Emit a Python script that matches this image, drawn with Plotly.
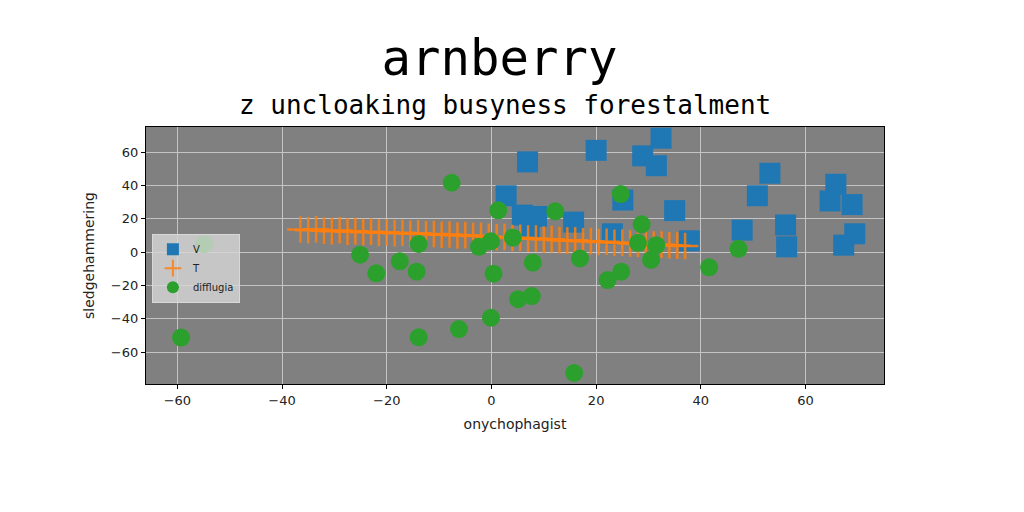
import plotly.graph_objects as go

# series V (blue squares)
v_x = [6.9, 20.0, 32.4, 28.9, 31.5, 25.1, 35.0, 37.8, 2.8, 5.9, 8.6, 7.2,
       15.7, 23.1, 53.2, 50.8, 47.9, 56.2, 56.4, 65.8, 64.7, 68.9, 69.4, 67.3]
v_y = [54.1, 61.0, 68.3, 57.7, 51.8, 31.2, 24.9, 6.8, 33.8, 22.2, 21.4, 14.8,
       18.0, 11.0, 47.3, 33.8, 13.2, 16.3, 3.2, 40.7, 30.7, 28.5, 11.0, 4.2]

# series T (orange crosses)
t_x = [-36.5, -35.0, -33.5, -32.0, -30.5, -29.0, -27.5, -26.0, -24.5, -23.0,
       -21.5, -20.0, -18.5, -17.0, -15.5, -14.0, -12.5, -11.0, -9.5, -8.0,
       -6.5, -5.0, -3.5, -2.0, -0.5, 1.0, 2.5, 4.0, 5.5, 7.0,
       8.5, 10.0, 11.5, 13.0, 14.5, 16.0, 17.5, 19.0, 20.5, 22.0,
       23.5, 25.0, 26.5, 28.0, 29.5, 31.0, 32.5, 34.0, 35.5, 37.0]
t_y = [13.6, 13.1, 13.7, 12.9, 12.6, 13.1, 12.3, 12.6, 12.0, 12.3,
       11.7, 11.9, 11.4, 11.6, 11.0, 11.3, 10.7, 10.9, 10.4, 10.6,
       10.0, 10.2, 9.7, 9.8, 9.2, 8.9, 9.1, 8.5, 8.6, 8.1,
       8.2, 7.6, 7.8, 7.2, 6.9, 7.1, 6.5, 6.6, 6.1, 6.2,
       5.6, 5.7, 5.2, 5.0, 5.1, 4.6, 4.5, 4.1, 3.9, 3.7]

# series difflugia (green circles)
d_x = [-7.6, 1.3, 4.1, -0.1, -2.4, -13.9, -25.1, -17.5, -22.0, -14.3, 0.4,
       5.1, 7.7, -0.1, -6.2, -13.9, -59.3, -54.9, 24.7, 12.2, 28.7, 28.0,
       31.5, 30.5, 7.9, 16.9, 24.8, 22.2, 15.8, 47.2, 41.6]
d_y = [41.6, 25.1, 8.7, 6.5, 3.2, 4.9, -1.5, -5.5, -12.7, -11.7, -12.9,
       -28.2, -26.3, -39.3, -46.1, -51.0, -51.2, 4.8, 34.8, 24.5, 16.7, 5.6,
       4.2, -4.6, -6.3, -3.8, -11.7, -16.7, -72.4, 2.0, -9.1]

tick_vals = [-60, -40, -20, 0, 20, 40, 60]
tick_text = ["\u221260", "\u221240", "\u221220", "0", "20", "40", "60"]

fig = go.Figure()
fig.add_trace(go.Scatter(
    x=v_x, y=v_y, mode="markers", name="V",
    marker=dict(symbol="square", size=21, color="#1f77b4"),
))
fig.add_trace(go.Scatter(
    x=t_x, y=t_y, mode="markers", name="T",
    marker=dict(symbol="cross-thin", size=19, opacity=0.85,
                line=dict(color="#ff7f0e", width=2.5)),
))
fig.add_trace(go.Scatter(
    x=d_x, y=d_y, mode="markers", name="difflugia",
    marker=dict(symbol="circle", size=18, color="#2ca02c"),
))

axis_style = dict(
    tickvals=tick_vals, ticktext=tick_text, automargin=False,
    showgrid=True, gridcolor="#c4c4c4", gridwidth=1.3,
    zeroline=False, showline=True, linecolor="black", linewidth=1.2,
    mirror=True, ticks="outside", ticklen=4, tickcolor="black",
    tickfont=dict(family="DejaVu Sans", size=13, color="#222"),
)

# the page body adds an 8px offset, so margins are shifted to compensate
fig.update_layout(
    width=1024, height=512,
    margin=dict(l=138, r=148, t=119, b=136),
    paper_bgcolor="white", plot_bgcolor="#808080",
    showlegend=True,
    title=dict(text="arnberry", x=0.48, xanchor="center",
               y=1 - 50 / 512, yanchor="middle",
               font=dict(family="DejaVu Sans Mono", size=49, color="black")),
    legend=dict(x=0.008, y=0.585, xanchor="left", yanchor="top",
                bgcolor="rgba(215,215,215,0.8)", bordercolor="#d8d8d8",
                borderwidth=1, itemsizing="constant", tracegroupgap=0,
                font=dict(family="DejaVu Sans", size=10, color="#222")),
    xaxis=dict(range=[-66, 75], **axis_style,
               title=dict(text="onychophagist", standoff=12,
                          font=dict(family="DejaVu Sans", size=14, color="#222"))),
    yaxis=dict(range=[-79, 75], **axis_style,
               title=dict(text="sledgehammering", standoff=12,
                          font=dict(family="DejaVu Sans", size=14, color="#222"))),
)

fig.add_annotation(
    text="z uncloaking busyness forestalment",
    xref="paper", yref="paper", x=0.486, y=1.086,
    xanchor="center", yanchor="middle", showarrow=False,
    font=dict(family="DejaVu Sans Mono", size=26, color="black"),
)

fig.write_html("out.html")
